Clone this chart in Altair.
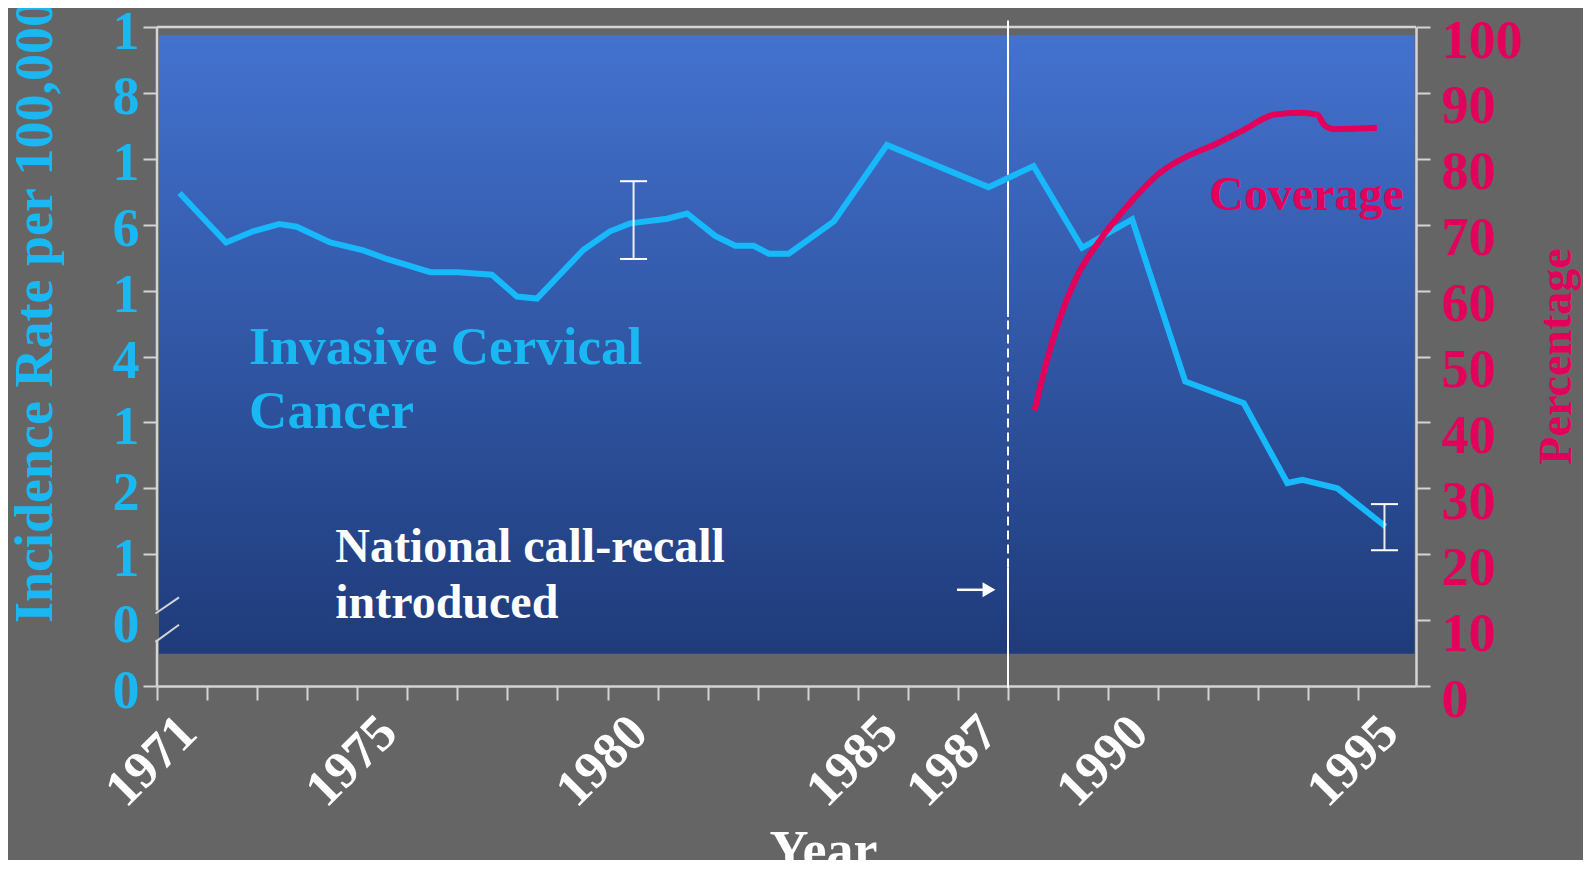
import altair as alt
import pandas as pd

# ---------------- data ----------------
inc_year = [1971.45, 1972.38, 1972.92, 1973.44, 1973.79, 1974.46, 1975.12, 1975.59,
            1976.46, 1977.02, 1977.69, 1978.19, 1978.59, 1979.52, 1980.05, 1980.45,
            1981.19, 1981.59, 1982.15, 1982.55, 1982.92, 1983.22, 1983.62, 1984.52,
            1985.58, 1987.61, 1988.51, 1989.48, 1990.48, 1991.54, 1992.71, 1993.58,
            1993.88, 1994.58, 1995.54]
inc_value = [74.8, 67.3, 69.0, 70.1, 69.7, 67.3, 66.1, 64.8,
             62.8, 62.8, 62.4, 59.1, 58.8, 66.2, 69.0, 70.2,
             70.9, 71.7, 68.3, 66.8, 66.8, 65.6, 65.6, 70.5,
             82.1, 75.7, 78.9, 66.5, 70.8, 46.2, 42.9, 30.8,
             31.3, 30.0, 24.2]

cov_year = [1988.53, 1988.78, 1989.05, 1989.38, 1989.84, 1990.38, 1991.04, 1991.58,
            1992.11, 1992.71, 1993.31, 1993.84, 1994.18, 1994.31, 1994.51, 1995.37]
cov_value = [41.8, 49.5, 56.1, 62.2, 67.7, 72.8, 77.9, 80.4,
             82.1, 84.4, 86.7, 87.0, 86.7, 85.2, 84.5, 84.7]

err_year = [1980.52, 1995.52]
err_low = [64.8, 20.6]
err_high = [76.6, 27.6]

left_tick_labels = ['0', '0', '1', '2', '1', '4', '1', '6', '1', '8', '1']
x_labelled = [1971, 1975, 1980, 1985, 1987, 1990, 1995]
x_ticks = list(range(1971, 1996))
y_ticks = list(range(0, 101, 10))

call_recall_year = 1988

# ---------------- styling ----------------
FONT = "Liberation Serif"
CYAN = "#17B9FB"
CYAN_TXT = "#1AB8F3"
CRIMSON = "#E3005B"
AXIS = "#D4D4D4"
BG = "#656565"

X_MIN, X_MAX = 1971, 1996.15
xscale = alt.Scale(domain=[X_MIN, X_MAX], nice=False, zero=False)
yscale = alt.Scale(domain=[0, 100], nice=False, zero=False)

left_expr = "[" + ",".join("'%s'" % s for s in left_tick_labels) + "][round(datum.value/10)]"
x_expr = "indexof([" + ",".join(str(v) for v in x_labelled) + "], datum.value) >= 0 ? datum.label : ''"

x_axis = alt.Axis(
    values=x_ticks, format="d",
    labelExpr=x_expr,
    labelAngle=315, labelAlign="right", labelBaseline="top",
    labelOffset=13, labelPadding=6, labelFlush=False, labelOverlap=False, labelBound=False,
    labelFont=FONT, labelFontWeight="bold", labelFontSize=52, labelColor="white",
    tickColor=AXIS, tickSize=14, tickWidth=2,
    domain=True, domainColor=AXIS, domainWidth=2.5, grid=False,
    title="Year", titleFont=FONT, titleFontWeight="bold", titleFontSize=54,
    titleColor="white", titleX=666, titleY=181, titleBaseline="alphabetic",
    titleAlign="center",
)

left_axis = alt.Axis(
    orient="left", values=y_ticks,
    labelExpr=left_expr,
    labelFont=FONT, labelFontWeight="bold", labelFontSize=54, labelColor=CYAN_TXT,
    labelPadding=4, labelOffset=5, labelOverlap=False, labelFlush=False, labelBound=False,
    tickColor={"condition": {"test": "datum.value == 10", "value": "rgba(0,0,0,0)"}, "value": AXIS},
    tickSize=14, tickWidth=2, domain=False, grid=False,
    title="Incidence Rate per 100,000", titleFont=FONT, titleFontWeight="bold",
    titleFontSize=54, titleColor=CYAN_TXT, titleAngle=270, titleX=-106, titleY=284,
    titleBaseline="alphabetic", titleAlign="center",
)

right_axis = alt.Axis(
    orient="right", values=y_ticks, format="d",
    labelFont=FONT, labelFontWeight="bold", labelFontSize=54, labelColor=CRIMSON,
    labelPadding=11, labelOffset=14, labelAlign="left", labelOverlap=False, labelFlush=False,
    labelBound=False,
    tickColor=AXIS, tickSize=14, tickWidth=2,
    domain=True, domainColor=AXIS, domainWidth=2.5, grid=False,
    title="Percentage", titleFont=FONT, titleFontWeight="bold", titleFontSize=46,
    titleColor=CRIMSON, titleAngle=270, titleX=154, titleY=329,
    titleBaseline="alphabetic", titleAlign="center",
)


def X(field):
    return alt.X(field, type="quantitative", scale=xscale, axis=x_axis)


def Y(field):
    return alt.Y(field, type="quantitative", scale=yscale, axis=left_axis)


def YR(field):
    return alt.Y(field, type="quantitative", scale=yscale, axis=right_axis)


# ---------------- layers ----------------
bg = alt.Chart(pd.DataFrame({"x": [1971.04], "x2": [1996.12], "y": [4.9], "y2": [98.75]})).mark_rect(
    fill=alt.LinearGradient(
        gradient="linear",
        stops=[alt.GradientStop(color="#4372CF", offset=0),
               alt.GradientStop(color="#1F3B7A", offset=1)],
        x1=0, x2=0, y1=0, y2=1,
    )
).encode(x=X("x"), x2="x2", y=Y("y2"), y2="y")

frame_h = pd.DataFrame({"x": [X_MIN], "x2": [X_MAX], "y": [100]})
top_line = alt.Chart(frame_h).mark_rule(color=AXIS, strokeWidth=2.5).encode(
    x=X("x"), x2="x2", y=Y("y"))

left_segs = pd.DataFrame({"x": [X_MIN, X_MIN], "y": [11.5, 0], "y2": [100, 7.0]})
left_line = alt.Chart(left_segs).mark_rule(color=AXIS, strokeWidth=2.5).encode(
    x=X("x"), y=Y("y"), y2="y2")

breaks = pd.DataFrame({"x": [1970.97, 1970.97], "x2": [1971.44, 1971.44],
                       "y": [11.0, 6.7], "y2": [13.45, 9.3]})
break_marks = alt.Chart(breaks).mark_rule(color=AXIS, strokeWidth=2).encode(
    x=X("x"), x2="x2", y=Y("y"), y2="y2")

cr_solid = pd.DataFrame({"x": [call_recall_year] * 2, "y": [-0.3, 56.0], "y2": [18.0, 101.0]})
cr_line = alt.Chart(cr_solid).mark_rule(color="white", strokeWidth=2).encode(
    x=X("x"), y=Y("y"), y2="y2")
cr_dash_df = pd.DataFrame({"x": [call_recall_year], "y": [18.0], "y2": [56.0]})
cr_dash = alt.Chart(cr_dash_df).mark_rule(color="white", strokeWidth=2, strokeDash=[9, 5]).encode(
    x=X("x"), y=Y("y"), y2="y2")

arrow_df = pd.DataFrame({"x": [1986.98], "x2": [1987.5], "y": [14.6]})
arrow_shaft = alt.Chart(arrow_df).mark_rule(color="white", strokeWidth=2.5).encode(
    x=X("x"), x2="x2", y=Y("y"))
arrow_head_df = pd.DataFrame({"x": [1987.62], "y": [14.6]})
arrow_head = alt.Chart(arrow_head_df).mark_point(
    shape="triangle-right", filled=True, size=220, color="white", opacity=1).encode(
    x=X("x"), y=Y("y"))

inc_df = pd.DataFrame({"year": inc_year, "value": inc_value})
inc_line = alt.Chart(inc_df).mark_line(color=CYAN, strokeWidth=6, strokeJoin="miter").encode(
    x=X("year"), y=Y("value"))

err_df = pd.DataFrame({"year": err_year, "lo": err_low, "hi": err_high})
err_rule = alt.Chart(err_df).mark_rule(color="white", strokeWidth=2, opacity=0.9).encode(
    x=X("year"), y=Y("lo"), y2="hi")
err_cap_lo = alt.Chart(err_df).mark_tick(orient="horizontal", size=27, thickness=2,
                                         color="white", opacity=1).encode(
    x=X("year"), y=Y("lo"))
err_cap_hi = alt.Chart(err_df).mark_tick(orient="horizontal", size=27, thickness=2,
                                         color="white", opacity=1).encode(
    x=X("year"), y=Y("hi"))

ann_cancer = pd.DataFrame({"x": [1972.84, 1972.84], "y": [48.9, 39.1],
                           "t": ["Invasive Cervical", "Cancer"]})
txt_cancer = alt.Chart(ann_cancer).mark_text(
    align="left", baseline="alphabetic", font=FONT, fontWeight="bold",
    fontSize=53, color=CYAN_TXT).encode(x=X("x"), y=Y("y"), text="t:N")

ann_nat = pd.DataFrame({"x": [1974.56, 1974.56], "y": [18.8, 10.3],
                        "t": ["National call-recall", "introduced"]})
txt_nat = alt.Chart(ann_nat).mark_text(
    align="left", baseline="alphabetic", font=FONT, fontWeight="bold",
    fontSize=48, color="white").encode(x=X("x"), y=Y("y"), text="t:N")

ann_cov = pd.DataFrame({"x": [1992.02], "y": [72.3], "t": ["Coverage"]})
txt_cov = alt.Chart(ann_cov).mark_text(
    align="left", baseline="alphabetic", font=FONT, fontWeight="bold",
    fontSize=48, color=CRIMSON).encode(x=X("x"), y=Y("y"), text="t:N")

left_group = alt.layer(
    bg, top_line, left_line, break_marks, cr_line, cr_dash, arrow_shaft, arrow_head,
    inc_line, err_rule, err_cap_lo, err_cap_hi, txt_cancer, txt_nat, txt_cov,
)

cov_df = pd.DataFrame({"year": cov_year, "value": cov_value})
cov_line = alt.Chart(cov_df).mark_line(color=CRIMSON, strokeWidth=6, interpolate="monotone").encode(
    x=X("year"), y=YR("value"))

chart = alt.layer(left_group, cov_line).resolve_scale(y="independent").properties(
    width=1259, height=659,
    padding={"left": 149, "top": 19, "right": 167, "bottom": 174},
    autosize=alt.AutoSizeParams(type="none"),
    background=BG,
).configure_view(stroke=None)

chart.save("out.html", embed_options={"renderer": "svg", "actions": False})
